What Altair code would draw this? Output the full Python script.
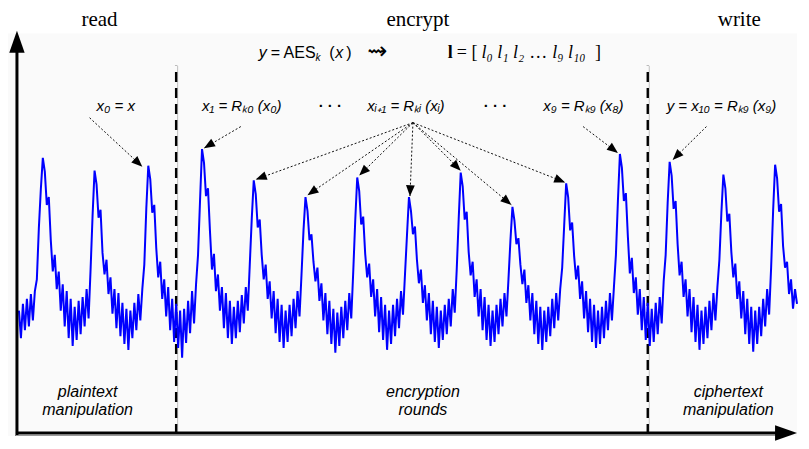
import math
import altair as alt
import pandas as pd

# ---------------- data ----------------
# power trace: one sample every 2 px, first sample at x = 19
TRACE_X0 = 19
TRACE_STEP = 2
lead = [128, 100, 135, 108, 140, 112, 145, 118, 148, 160, 212, 252, 284]
seg1 = [270, 236, 244, 200, 168, 185, 150, 168, 128, 155, 112, 148, 100, 140, 92, 132, 98, 138, 104, 142, 112, 150, 120, 170, 225, 271]
seg2 = [257, 223, 231, 187, 165, 180, 145, 162, 125, 150, 110, 146, 102, 136, 94, 130, 88, 128, 100, 136, 108, 145, 118, 150, 175, 232, 276]
seg3 = [262, 228, 236, 192, 162, 178, 140, 160, 122, 152, 108, 140, 96, 135, 90, 128, 80, 130, 95, 138, 105, 148, 115, 155, 185, 240, 293]
seg4 = [279, 245, 253, 209, 170, 186, 148, 165, 128, 152, 110, 146, 100, 138, 94, 132, 100, 138, 106, 144, 115, 152, 128, 175, 222, 261]
seg5 = [247, 213, 221, 185, 160, 175, 140, 158, 120, 148, 105, 140, 96, 134, 90, 128, 96, 134, 102, 140, 110, 148, 122, 165, 210, 244]
seg6 = [230, 200, 206, 178, 158, 172, 138, 156, 118, 146, 104, 138, 94, 130, 85, 126, 92, 132, 100, 138, 108, 146, 120, 168, 220, 264]
seg7 = [250, 216, 224, 186, 162, 176, 142, 160, 122, 150, 106, 142, 98, 134, 88, 128, 94, 134, 102, 140, 110, 148, 124, 165, 205, 244]
seg8 = [230, 206, 214, 180, 156, 170, 136, 154, 118, 146, 104, 138, 96, 132, 90, 128, 98, 134, 104, 140, 112, 150, 126, 170, 222, 269]
seg9 = [255, 221, 229, 188, 164, 178, 142, 160, 122, 150, 108, 142, 98, 134, 92, 128, 96, 134, 104, 140, 112, 146, 122, 160, 200, 234]
seg10 = [220, 196, 202, 175, 155, 170, 136, 154, 118, 146, 104, 138, 94, 132, 88, 128, 96, 132, 102, 140, 110, 146, 118, 150, 172, 215, 258]
seg11 = [244, 210, 218, 184, 160, 174, 140, 158, 120, 148, 106, 140, 96, 134, 90, 128, 94, 132, 100, 138, 108, 146, 118, 152, 185, 240, 288]
seg12 = [274, 240, 248, 204, 166, 182, 146, 162, 124, 150, 108, 142, 98, 136, 92, 130, 96, 136, 104, 142, 115, 158, 185, 238, 280]
seg13 = [266, 232, 240, 196, 164, 178, 142, 160, 122, 150, 106, 142, 96, 134, 88, 128, 94, 132, 100, 138, 108, 146, 118, 152, 180, 228, 267]
seg14 = [253, 219, 227, 188, 162, 176, 140, 158, 120, 148, 104, 140, 94, 132, 86, 128, 94, 132, 102, 140, 112, 150, 124, 172, 230, 277]
tail = [263, 229, 237, 194, 172, 178, 145, 160, 130, 150, 135]

# phase boundaries (dashed separators)
phase_x = [177, 651]

# annotation arrows: start (x, a) -> tip (x, a)
arrow_x1 = [90, 242, 415, 415, 415, 415, 415, 415, 415, 586, 710]
arrow_a1 = [325, 316, 320, 320, 320, 320, 320, 320, 320, 316, 316]
arrow_x2 = [143, 205, 257, 309, 361, 412, 463, 514, 568, 621, 676]
arrow_a2 = [275, 294, 262, 246, 266, 245, 271, 236, 259, 289, 282]

# texts
head_text = ["read", "encrypt", "write"]
head_x = [100, 420, 743]

ann_text = ["x₀ = x", "x₁ = Rₖ₀ (x₀)", "xᵢ₊₁ = Rₖᵢ (xᵢ)", "x₉ = Rₖ₉ (x₈)", "y = x₁₀ = Rₖ₉ (x₉)"]
ann_x = [97, 203, 369, 546, 670]
dots_x = [332, 498]

bottom_text = ["plaintext", "manipulation", "encryption", "rounds", "ciphertext", "manipulation"]
bottom_x = [88, 88, 425, 425, 732, 732]
bottom_a = [40, 21, 40, 21, 40, 21]

# ---------------- scales ----------------
W, H = 793, 433
xs = alt.Scale(domain=[8, 801], nice=False, zero=False)
ys = alt.Scale(domain=[0, 433], nice=False, zero=False)


def X(f="x"):
    return alt.X(f"{f}:Q", scale=xs, axis=None)


def Y(f="a"):
    return alt.Y(f"{f}:Q", scale=ys, axis=None)


# trace table
trace_vals = lead + seg1 + seg2 + seg3 + seg4 + seg5 + seg6 + seg7 + seg8 + seg9 + seg10 + seg11 + seg12 + seg13 + seg14 + tail
trace_df = pd.DataFrame({
    "x": [TRACE_X0 + TRACE_STEP * i for i in range(len(trace_vals))],
    "a": trace_vals,
})

bg = alt.Chart(pd.DataFrame({"x": [8], "x2": [801], "a": [0], "a2": [411]})).mark_rect(
    color="#fafafa").encode(x=X(), x2="x2:Q", y=Y(), y2="a2:Q")

phase_df = pd.DataFrame({"x": phase_x, "a": [2] * 2, "a2": [378] * 2})
phase_gray = pd.DataFrame({"x": [v + 1.5 for v in phase_x], "a": [2] * 2, "a2": [378] * 2})
dashed = alt.Chart(phase_df).mark_rule(color="black", strokeWidth=2.4, strokeDash=[10, 6]).encode(
    x=X(), y=Y(), y2="a2:Q")
dashed_thin = alt.Chart(phase_gray).mark_rule(color="#b0b0b0", strokeWidth=0.8).encode(
    x=X(), y=Y(), y2="a2:Q")

trace = alt.Chart(trace_df).mark_line(color="#0000ff", strokeWidth=2.0, interpolate="linear").encode(
    x=X(), y=Y())

# arrows
arrow_df = pd.DataFrame({"x": arrow_x1, "a": arrow_a1, "x2": arrow_x2, "a2": arrow_a2})
head_rows = []
for x1, a1, x2, a2 in zip(arrow_x1, arrow_a1, arrow_x2, arrow_a2):
    dx, da = x2 - x1, a2 - a1
    ln = math.hypot(dx, da)
    ang = math.degrees(math.atan2(dx, da)) % 360
    head_rows.append({"x": x2 - 5.5 * dx / ln, "a": a2 - 5.5 * da / ln, "ang": ang})
head_df = pd.DataFrame(head_rows)

arrow_lines = alt.Chart(arrow_df).mark_rule(color="#111111", strokeWidth=1, strokeDash=[2, 2]).encode(
    x=X(), y=Y(), x2="x2:Q", y2="a2:Q")
TRI = "M0,-1L0.8,1L-0.8,1Z"
arrow_heads = alt.Chart(head_df).mark_point(shape=TRI, filled=True, color="black", size=121, opacity=1,
                                            strokeWidth=0).encode(
    x=X(), y=Y(), angle=alt.Angle("ang:Q", scale=None))

# axes
yaxis = alt.Chart(pd.DataFrame({"x": [17], "a": [0], "a2": [400]})).mark_rule(
    color="black", strokeWidth=3).encode(x=X(), y=Y(), y2="a2:Q")
xaxis = alt.Chart(pd.DataFrame({"x": [16], "x2": [785], "a": [3]})).mark_rule(
    color="black", strokeWidth=3).encode(x=X(), x2="x2:Q", y=Y())
xaxis2 = alt.Chart(pd.DataFrame({"x": [16], "x2": [785], "a": [0.5]})).mark_rule(
    color="#9a9a9a", strokeWidth=1).encode(x=X(), x2="x2:Q", y=Y())
AX_TRI = "M0,-1L0.7,1L-0.7,1Z"
axis_heads = alt.Chart(pd.DataFrame({"x": [17, 790], "a": [402.5, 3], "ang": [0, 90]})).mark_point(
    shape=AX_TRI, filled=True, color="black", size=484, opacity=1, strokeWidth=0).encode(
    x=X(), y=Y(), angle=alt.Angle("ang:Q", scale=None))


def text_layer(df, font, size, style="normal", weight="normal", align="left", color="black"):
    return alt.Chart(df).mark_text(font=font, fontSize=size, fontStyle=style, fontWeight=weight,
                                   align=align, baseline="alphabetic", color=color).encode(
        x=X(), y=Y(), text="t:N")


SERIF = "Liberation Serif"
SANS = "Liberation Sans"

heads = text_layer(pd.DataFrame({"x": head_x, "a": [419] * 3, "t": head_text}), SERIF, 21, align="center")

# formula  y = AES_k (x)  ~>  l = [ l0 l1 l2 ... l9 l10 ]
f_it = text_layer(pd.DataFrame({"x": [260, 337], "a": [386, 386], "t": ["y", "x"]}), SANS, 16, style="italic")
f_rm = text_layer(pd.DataFrame({"x": [272, 331, 348], "a": [386] * 3, "t": ["= AES", "(", ")"]}), SANS, 16)
f_sub = text_layer(pd.DataFrame({"x": [317], "a": [383], "t": ["k"]}), SANS, 10, style="italic")
f_arrow = text_layer(pd.DataFrame({"x": [369], "a": [385], "t": ["⇝"]}), "DejaVu Sans", 24)
f_bold = text_layer(pd.DataFrame({"x": [450], "a": [386], "t": ["l"]}), SERIF, 18, weight="bold")
f_srm = text_layer(pd.DataFrame({"x": [459, 532, 598], "a": [386] * 3, "t": ["= [", "…", "]"]}), SERIF, 18)
f_sit = text_layer(pd.DataFrame({"x": [484, 555], "a": [386] * 2, "t": ["l₀ l₁ l₂", "l₉ l₁₀"]}), SERIF, 18,
                   style="italic")

ann = text_layer(pd.DataFrame({"x": ann_x, "a": [332] * len(ann_x), "t": ann_text}), SANS, 15, style="italic")
dots = text_layer(pd.DataFrame({"x": dots_x, "a": [332] * 2, "t": ["· · ·"] * 2}), SANS, 15, weight="bold",
                  align="center")
bottom = text_layer(pd.DataFrame({"x": bottom_x, "a": bottom_a, "t": bottom_text}), SANS, 16, style="italic",
                    align="center")

chart = alt.layer(
    bg, dashed_thin, dashed, trace, arrow_lines, arrow_heads, yaxis, xaxis2, xaxis, axis_heads,
    heads, f_it, f_rm, f_sub, f_arrow, f_bold, f_srm, f_sit, ann, dots, bottom
).properties(
    width=W, height=H,
    autosize=alt.AutoSizeParams(type="fit", contains="padding"),
    padding=0,
    background="white",
).configure_view(stroke=None)

chart.save("out.html", embed_options={"renderer": "svg", "actions": False})
